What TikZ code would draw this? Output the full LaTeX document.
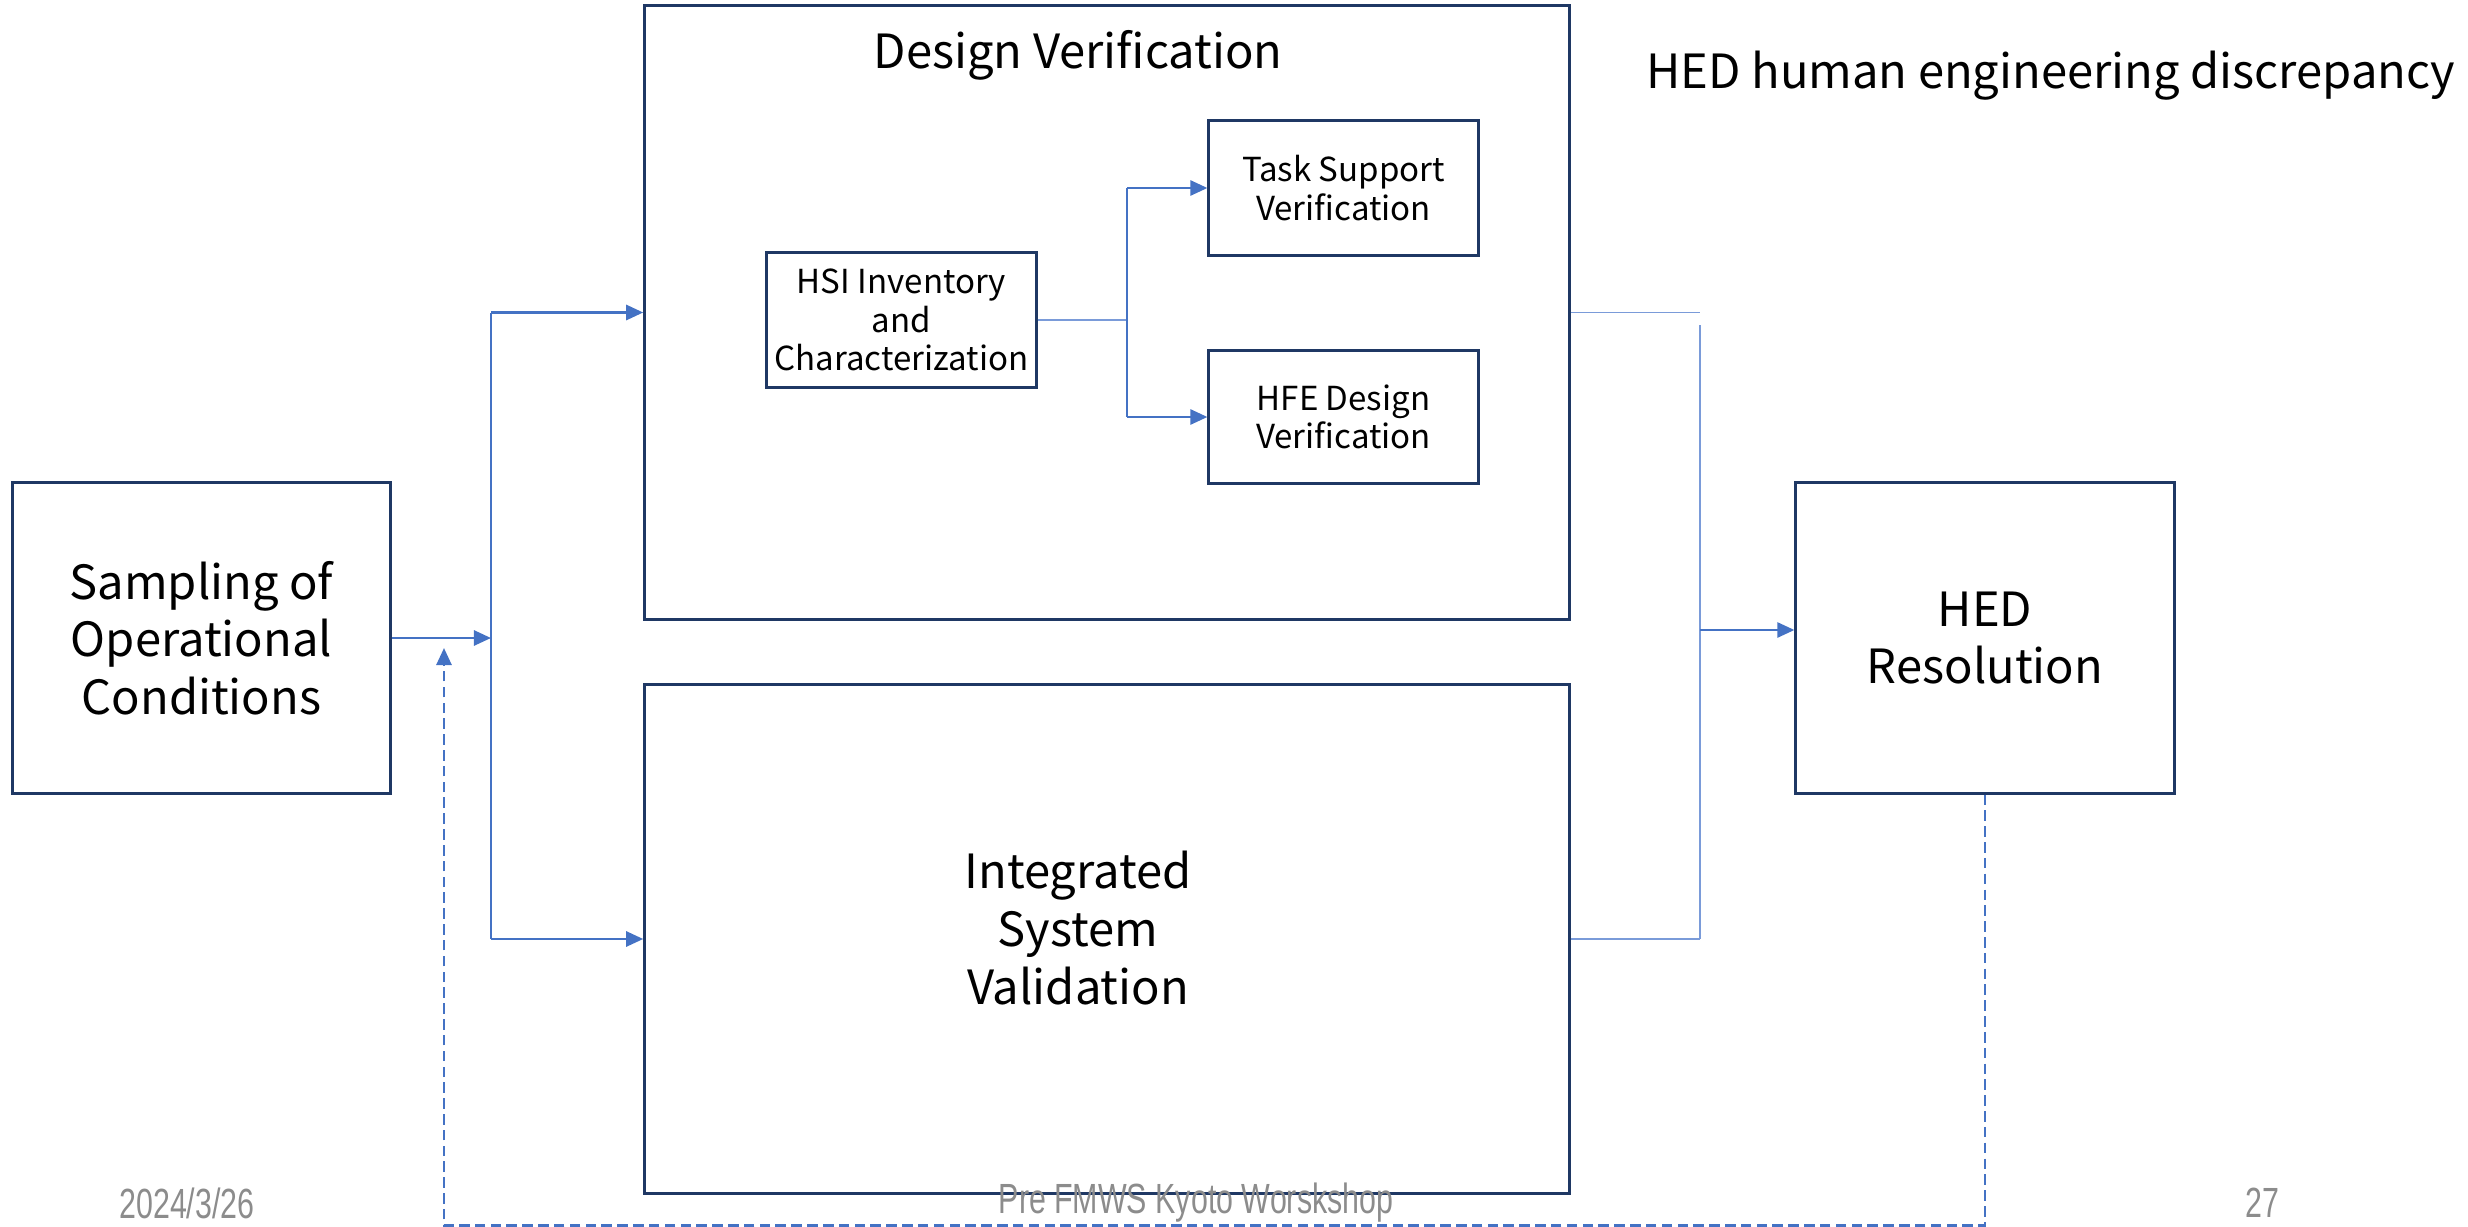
\documentclass[tikz,border=0pt]{standalone}
\usepackage{fontspec}
\setmainfont{Noto Sans CJK JP}
\newfontfamily\footfont[FakeStretch=0.72]{Liberation Sans}
\usepackage{tikz}
\usetikzlibrary{arrows.meta,positioning}

\definecolor{boxline}{HTML}{1F3864}
\definecolor{flowblue}{HTML}{4472C4}
\definecolor{thinblue}{HTML}{7A9BD9}
\definecolor{footgray}{HTML}{8C8C8C}

\tikzset{
	bigtext/.style={font=\fontsize{13.4}{16.4}\selectfont},
	block/.style={draw=boxline, line width=0.85pt, inner sep=0pt, align=center, bigtext},
	subblock/.style={block, minimum width=2.69cm, minimum height=1.34cm,
		font=\fontsize{9.4}{10.9}\selectfont},
	flow/.style={draw=flowblue, line width=0.75pt, -{Triangle[length=0.17cm,width=0.15cm]}},
	link/.style={draw=thinblue, line width=0.55pt},
	footer/.style={text=footgray, inner sep=0pt, font=\footfont\fontsize{12}{13}\selectfont}
}

\begin{document}
\begin{tikzpicture}[x=0.01cm, y=-0.01cm]
	\useasboundingbox (0,0) rectangle (2468,1227);

	% Nodes {samp, dv, isv, hsi, task, hfe, hed}
	\node [block, minimum width=3.77cm, minimum height=3.10cm]	(samp)	at (201.5,638)	{Sampling of\\Operational\\Conditions};
	\node [block, minimum width=9.24cm, minimum height=6.13cm]	(dv)	at (1107,312.5)	{};
	\node [block, minimum width=9.24cm, minimum height=5.08cm]	(isv)	at (1107,939)	{};
	\node [block, minimum width=3.78cm, minimum height=3.10cm]	(hed)	at (1985,638)	{HED\\Resolution};
	\node [subblock]	(hsi)	at (901.5,320)	{HSI Inventory\\and\\Characterization};
	\node [subblock]	(task)	at (1343.5,188)	{Task Support\\Verification};
	\node [subblock, minimum height=1.32cm]	(hfe)	at (1343.5,417)	{HFE Design\\Verification};

	% Texts
	\node [bigtext]	(dvtitle)	at (1078,55)	{Design Verification};
	\node [bigtext, align=center]	(isvtitle)	at (1078,928)	{Integrated\\System\\Validation};
	\node [bigtext, anchor=west]	(hednote)	at (1634,76)	{HED human engineering discrepancy};
	\node [footer]	(date)	at (187,1203)	{2024/3/26};
	\node [footer]	(event)	at (1196,1203)	{Pre FMWS Kyoto Worskshop};
	\node [footer]	(page)	at (2262,1203)	{27};

	% Junctions
	\coordinate (forkL)	at (491,638);
	\coordinate (forkM)	at (1127,320);
	\coordinate (forkR)	at (1700,630);
	\coordinate (back)	at (444,648);

	% Paths
	\path [flow]	(samp.east) -- (forkL);
	\path [link, draw=flowblue]	(forkL |- dv.west) -- (forkL |- isv.west);
	\path [flow]	(forkL |- dv.west) -- (dv.west);
	\path [flow]	(forkL |- isv.west) -- (isv.west);

	\path [link]	(hsi.east) -- (forkM);
	\path [link, draw=flowblue]	(forkM |- task.west) -- (forkM |- hfe.west);
	\path [flow]	(forkM |- task.west) -- (task.west);
	\path [flow]	(forkM |- hfe.west) -- (hfe.west);

	\path [link]	(dv.east) -- (forkR |- dv.east);
	\path [link]	(isv.east) -- (forkR |- isv.east);
	\path [link]	(forkR |- 0,325) -- (forkR |- isv.east);
	\path [flow]	(forkR) -- (forkR -| hed.west);

	\path [flow, dash pattern=on 3pt off 1.5pt]	(hed.south) -- ++(0,431) -| (back);

\end{tikzpicture}
\end{document}
